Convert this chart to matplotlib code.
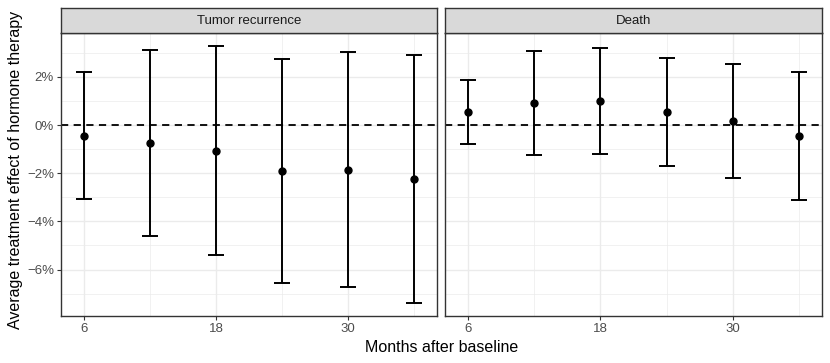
import matplotlib
matplotlib.use("Agg")
import matplotlib.pyplot as plt
from matplotlib.ticker import FuncFormatter

plt.rcParams['font.family'] = ['Liberation Sans', 'DejaVu Sans']

# datos (en %)
meses = [6, 12, 18, 24, 30, 36]
paneles = ['Tumor recurrence', 'Death']
efecto = {
    'Tumor recurrence': [-0.45, -0.74, -1.06, -1.90, -1.85, -2.25],
    'Death': [0.56, 0.91, 0.99, 0.55, 0.16, -0.45],
}
inferior = {
    'Tumor recurrence': [-3.09, -4.60, -5.38, -6.55, -6.73, -7.39],
    'Death': [-0.78, -1.25, -1.21, -1.70, -2.22, -3.12],
}
superior = {
    'Tumor recurrence': [2.20, 3.12, 3.28, 2.76, 3.03, 2.92],
    'Death': [1.88, 3.06, 3.18, 2.79, 2.54, 2.20],
}

W, H = 830, 363
fig = plt.figure(figsize=(W / 100, H / 100), dpi=100)

izq = [61, 445]
der = [437, 822]
arriba, abajo, tira = 33, 316, 8

pct = FuncFormatter(lambda v, p: f"{v:.0f}%".replace('-', '\u2212'))

for i, nombre in enumerate(paneles):
    ax = fig.add_axes([izq[i] / W, 1 - abajo / H, (der[i] - izq[i]) / W, (abajo - arriba) / H])
    y = efecto[nombre]
    lo = inferior[nombre]
    hi = superior[nombre]
    err = [[a - b for a, b in zip(y, lo)], [b - a for a, b in zip(y, hi)]]
    ax.axhline(0, color='black', ls=(0, (4, 3)), lw=1.3, zorder=2)
    ax.errorbar(meses, y, yerr=err, fmt='o', color='black', ms=5, lw=1.4,
                capsize=5.5, capthick=1.4, zorder=3)
    ax.set_xlim(3.95, 38.05)
    ax.set_ylim(-7.93, 3.82)
    ax.set_xticks([6, 18, 30])
    ax.set_xticks([12, 24, 36], minor=True)
    ax.set_yticks([-6, -4, -2, 0, 2])
    ax.set_yticks([-7, -5, -3, -1, 1, 3], minor=True)
    ax.yaxis.set_major_formatter(pct)
    ax.grid(which='major', color='#ebebeb', lw=1.0, zorder=0)
    ax.grid(which='minor', color='#ebebeb', lw=0.5, zorder=0)
    ax.set_axisbelow(True)
    ax.tick_params(which='major', length=3, color='#333333', labelsize=9.5, labelcolor='#4d4d4d', pad=2)
    ax.tick_params(which='minor', length=0)
    for s in ax.spines.values():
        s.set_color('#333333')
        s.set_linewidth(1.0)
    if i == 1:
        ax.tick_params(axis='y', which='both', left=False, labelleft=False)
    # tira del panel
    st = fig.add_axes([izq[i] / W, 1 - arriba / H, (der[i] - izq[i]) / W, (arriba - tira) / H])
    st.set_facecolor('#d9d9d9')
    st.set_xticks([])
    st.set_yticks([])
    for s in st.spines.values():
        s.set_color('#333333')
        s.set_linewidth(1.0)
    st.text(0.5, 0.5, nombre, ha='center', va='center', fontsize=9.5, color='#1a1a1a',
            transform=st.transAxes)

fig.text((izq[0] + der[1]) / 2 / W, 1 - 347 / H, 'Months after baseline', ha='center',
         va='center', fontsize=11.5)
fig.text(16 / W, 1 - 170 / H, 'Average treatment effect of hormone therapy',
         ha='center', va='center', rotation=90, fontsize=11.5)

fig.savefig('out.png', dpi=100)
